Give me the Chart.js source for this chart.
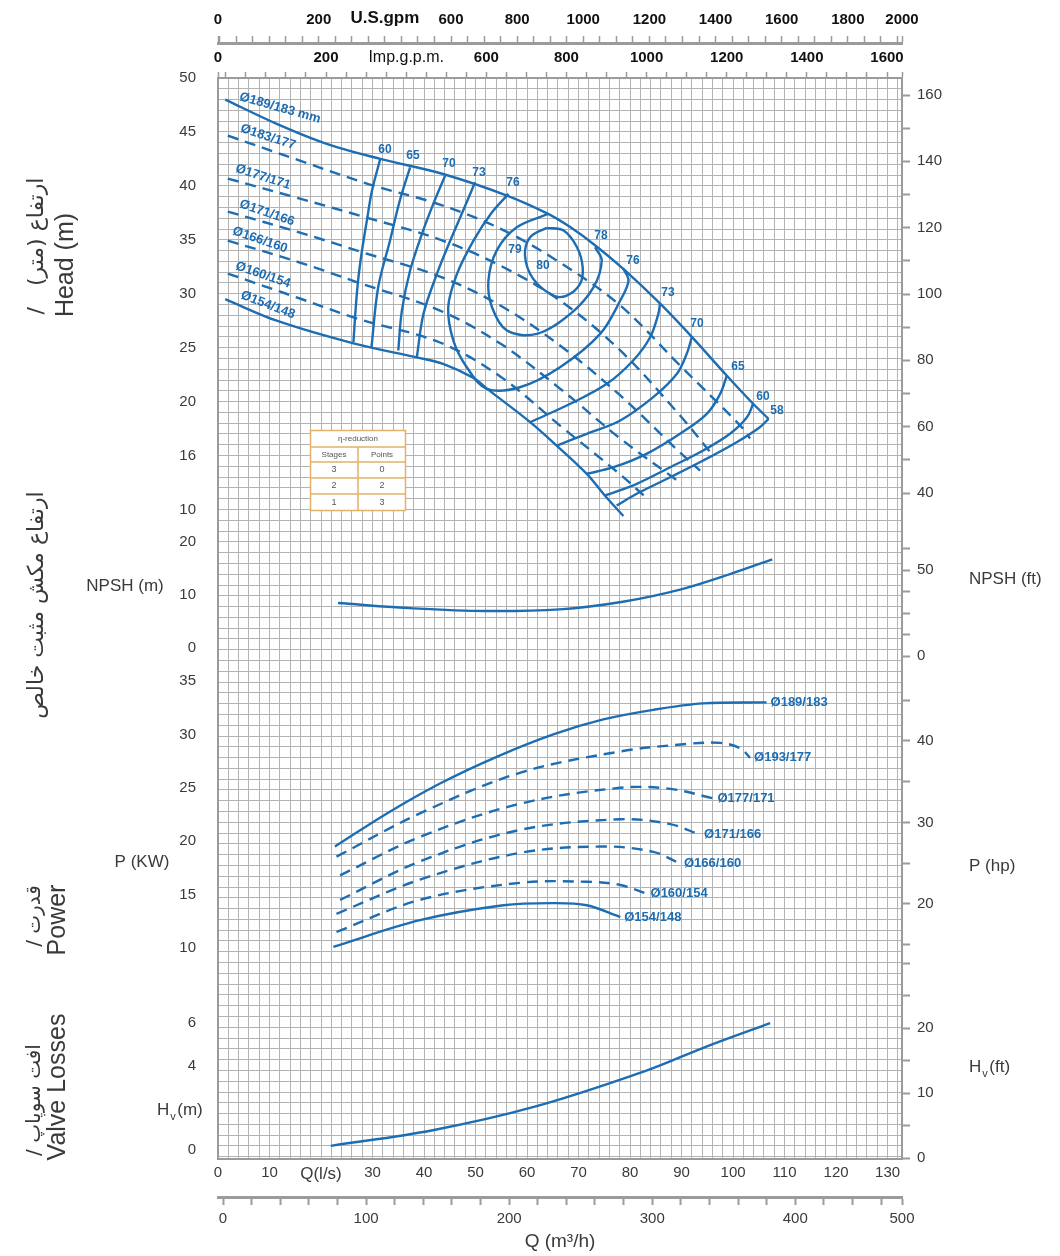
<!DOCTYPE html>
<html>
<head>
<meta charset="utf-8">
<script src="https://cdn.jsdelivr.net/npm/chart.js@4.4.1/dist/chart.umd.min.js"></script>
<style>
html,body{margin:0;padding:0;background:#fff}
canvas{display:block}
</style>
</head>
<body>
<canvas id="pump" width="1060" height="1256"></canvas>
<script>
// flow is plotted in l/s, every curve is [Q, value]

// H-Q curves (m)
const hq189 = [[1.4,48.0],[11.4,45.75],[21.1,43.9],[31.5,42.5],[43.7,41.1],[56.1,39.1],[64.1,37.4],[68.3,36.2],[73.2,34.5],[78.7,32.3],[85.8,29.1],[92.0,26.0],[98.8,22.4],[103.9,19.8],[106.9,18.4]];
const hq183 = [[1.9,44.66],[15.9,42.34],[29.5,40.12],[43.1,38.27],[54.8,36.04],[66.4,32.89],[78.1,28.91],[89.7,23.35],[101.4,17.78],[103.3,16.58]];
const hq177 = [[1.9,40.68],[15.9,38.82],[29.5,36.97],[43.1,35.02],[54.8,32.61],[66.4,29.37],[78.1,24.74],[89.7,18.71],[96.1,15.0]];
const hq171 = [[1.9,37.62],[15.9,35.67],[28.2,33.82],[43.1,31.59],[54.8,28.91],[66.4,25.2],[78.1,20.57],[89.7,15.28],[93.6,13.61]];
const hq166 = [[1.9,34.93],[15.9,32.89],[27.2,31.04],[43.1,28.44],[54.8,25.38],[66.4,21.21],[78.1,16.58],[89.7,12.5]];
const hq160 = [[1.9,31.87],[15.9,29.56],[27.0,27.7],[43.1,25.48],[54.8,22.33],[66.4,17.78],[78.1,13.24],[83.1,11.11]];
const hq154 = [[1.4,29.5],[11.4,27.5],[26.3,25.4],[38.6,24.1],[43.7,23.5],[49.6,22.2],[52.2,21.2],[60.6,18.1],[65.8,15.9],[71.6,13.3],[75.1,11.3],[78.7,9.4]];

// iso-efficiency lines (%)
const eta60L = [[31.5,42.5],[29.9,39.56],[28.9,36.78],[27.9,33.82],[27.2,31.22],[26.7,28.44],[26.3,25.51]];
const eta65L = [[37.3,41.72],[35.3,38.64],[33.4,34.93],[31.1,30.6],[29.8,25.04]];
const eta70L = [[44.1,40.95],[41.8,38.33],[39.6,35.55],[37.3,32.15],[35.7,28.44],[35.0,24.74]];
const eta73L = [[49.9,40.33],[47.6,37.71],[45.1,34.93],[42.5,31.84],[39.9,28.14],[38.6,24.11]];
const eta76 = [[56.4,39.26],[53.2,37.55],[49.6,34.93],[46.4,31.84],[44.7,28.75],[45.7,25.66],[48.3,23.19],[52.2,21.19],[58.6,21.33],[66.4,23.19],[74.2,26.28],[78.1,29.37],[79.7,31.22],[78.7,32.31]];
const eta78 = [[64.1,37.4],[58.0,36.16],[54.1,34.0],[52.5,31.22],[53.2,28.75],[56.1,26.59],[61.9,26.28],[68.4,28.14],[72.9,30.6],[74.5,33.08],[73.2,34.31]];
const eta80 = [[63.8,36.11],[60.6,35.24],[59.6,33.54],[61.2,31.38],[65.1,29.83],[67.7,29.83],[70.3,30.92],[70.8,32.46],[69.7,34.31],[67.1,35.86],[63.8,36.11]];
const eta73R = [[85.8,29.06],[85.5,28.14],[83.9,25.97],[80.6,23.81],[75.5,21.65],[68.4,19.8],[60.6,18.09]];
const eta70R = [[92.0,25.97],[91.0,24.43],[89.1,22.58],[84.5,20.41],[78.1,18.25],[71.6,17.02],[65.8,15.93]];
const eta65R = [[98.8,22.42],[97.5,20.72],[94.9,18.87],[89.7,17.02],[83.2,15.16],[76.8,13.92],[71.6,13.31]];
const eta60R = [[103.9,19.8],[102.7,18.55],[99.4,17.02],[94.2,15.47],[87.8,13.92],[81.3,12.38],[75.2,11.3]];
const eta58R = [[106.9,18.41],[105.2,17.63],[100.7,16.24],[94.2,14.54],[87.8,12.99],[81.3,11.46],[77.4,10.37]];

// NPSH (m)
const npsh = [[23.3,8.49],[37.9,7.49],[52.1,6.98],[66.3,7.3],[78.6,8.74],[89.9,11.08],[99.4,13.96],[107.6,16.74]];

// power (kW)
const p189 = [[22.7,19.5],[32.8,22.6],[43.1,25.4],[54.1,27.9],[65.1,30.0],[74.8,31.4],[84.5,32.3],[94.2,32.9],[106.5,33.0]];
const p193 = [[23.0,18.55],[39.2,22.6],[58.6,26.4],[78.1,28.4],[91.0,29.1],[97.5,29.2],[101.4,28.7],[103.3,27.8]];
const p177 = [[23.7,16.8],[39.2,20.4],[58.6,23.5],[78.1,25.0],[87.8,24.9],[96.2,24.0]];
const p171 = [[23.7,14.5],[39.2,18.1],[58.6,21.05],[78.1,22.05],[87.8,21.6],[93.6,20.6]];
const p166 = [[23.0,13.2],[39.2,16.4],[58.6,18.9],[74.8,19.5],[84.5,19.0],[89.7,17.9]];
const p160 = [[23.0,11.5],[39.2,14.5],[58.6,16.1],[71.6,16.2],[78.1,15.9],[83.2,15.1]];
const p154 = [[22.4,10.1],[39.2,12.6],[55.4,14.0],[65.1,14.2],[71.6,14.0],[78.1,12.9]];

// valve losses (m)
const hv = [[21.9,0.2],[41.7,0.94],[61.5,2.05],[82.9,3.73],[94.7,4.88],[107.2,6.0]];

// tick labels
const lsLabels = ['0','10','Q(l/s)','30','40','50','60','70','80','90','100','110','120','130'];
const m3hLabels = ['0','100','200','300','400','500'];
const usLabels = ['0','200','U.S.gpm','600','800','1000','1200','1400','1600','1800','2000'];
const impLabels = ['0','200','Imp.g.p.m.','600','800','1000','1200','1400','1600'];
const headTicks = [10,15,20,25,30,35,40,45,50];
const headLabels = ['10','16','20','25','30','35','40','45','50'];
const headFtTicks = [40,50,60,70,80,90,100,110,120,130,140,150,160];
const npshTicks = [0,10,20];
const npshFtTicks = [0,12.5,25,37.5,50,62.5];
const powerTicks = [10,15,20,25,30,35];
const powerHpTicks = [15,20,25,30,35,40,45];
const valveTicks = [0,2,4,6];
const valveFtTicks = [0,5,10,15,20,25,30];
const valveFtLabels = ['0','','10','','20','',''];
const etaStages = ['3','2','1'];
const etaPoints = ['0','2','3'];

const BLUE = '#1d6db3';
const GRID = '#b3b3b3';
const FRAME = '#9b9b9b';
const TXT = '#3a3a3a';
const SANS = "'Liberation Sans', Arial, sans-serif";
const ARAB = "'DejaVu Sans', sans-serif";

const toXY = a => a.map(([x, y]) => ({x, y}));

function curve(data, axis, dashed, tag) {
  return {
    data: toXY(data), xAxisID: 'x', yAxisID: axis, tag: tag,
    borderColor: BLUE, borderWidth: 2.4, borderDash: dashed ? [11, 7] : [],
    pointRadius: 0, tension: 0.35, fill: false
  };
}

const datasets = [
  curve(hq189, 'yH'), curve(hq183, 'yH', true), curve(hq177, 'yH', true),
  curve(hq171, 'yH', true), curve(hq166, 'yH', true), curve(hq160, 'yH', true),
  curve(hq154, 'yH'),
  curve(eta60L, 'yH'), curve(eta65L, 'yH'), curve(eta70L, 'yH'), curve(eta73L, 'yH'),
  curve(eta76, 'yH'), curve(eta78, 'yH'), curve(eta80, 'yH'),
  curve(eta73R, 'yH'), curve(eta70R, 'yH'), curve(eta65R, 'yH'), curve(eta60R, 'yH'), curve(eta58R, 'yH'),
  curve(npsh, 'yN'),
  curve(p189, 'yP', false, 'Ø189/183'), curve(p193, 'yP', true, 'Ø193/177'),
  curve(p177, 'yP', true, 'Ø177/171'), curve(p171, 'yP', true, 'Ø171/166'),
  curve(p166, 'yP', true, 'Ø166/160'), curve(p160, 'yP', true, 'Ø160/154'),
  curve(p154, 'yP', false, 'Ø154/148'),
  curve(hv, 'yV')
];

// side axes take no room of their own; their labels must not be clipped to the empty box
function noRoom(s) {
  s.width = 0;
  s._computeLabelArea = () => null;
}

function leftAxis(min, max, ticks, labels) {
  return {
    type: 'linear', position: 'left', weight: 0, min: min, max: max,
    afterBuildTicks: s => { s.ticks = ticks.map(v => ({value: v})); },
    afterFit: noRoom,
    grid: {display: false}, border: {display: false},
    ticks: {autoSkip: false, padding: 14, color: TXT, font: {family: SANS, size: 15},
      callback: v => labels[ticks.indexOf(v)]}
  };
}

function rightAxis(min, max, ticks, labels) {
  return {
    type: 'linear', position: 'right', weight: 0, min: min, max: max,
    afterBuildTicks: s => { s.ticks = ticks.map(v => ({value: v})); },
    afterFit: noRoom,
    grid: {display: true, drawOnChartArea: false, drawTicks: true, tickLength: 8, tickWidth: 2, tickColor: FRAME},
    border: {display: false},
    ticks: {autoSkip: false, padding: 7, color: TXT, font: {family: SANS, size: 15},
      callback: v => labels[ticks.indexOf(v)]}
  };
}

const overlay = {
  id: 'overlay',
  afterDraw(chart) {
    const c = chart.ctx;
    c.save();

    const vt = (s, x, y, size, rtl) => {
      c.save();
      c.translate(x, y);
      c.rotate(-Math.PI / 2);
      c.font = size + 'px ' + (rtl ? ARAB : SANS);
      c.direction = rtl ? 'rtl' : 'ltr';
      c.textAlign = 'center';
      c.textBaseline = 'middle';
      c.fillStyle = TXT;
      c.fillText(s, 0, 0);
      c.restore();
    };
    vt('ارتفاع (متر)   /', 37, 246, 22, true);
    vt('Head (m)', 66, 265, 25, false);
    vt('ارتفاع مکش مثبت خالص', 37, 605, 22, true);
    vt('قدرت /', 35, 916, 20, true);
    vt('Power', 58, 920, 25, false);
    vt('افت سوپاپ /', 35, 1100, 20, true);
    vt('Valve Losses', 58, 1087, 25, false);

    // unit labels
    c.fillStyle = TXT;
    c.textBaseline = 'middle';
    c.font = '17px ' + SANS;
    c.textAlign = 'center';
    c.fillText('NPSH (m)', 125, 586);
    c.fillText('P (KW)', 142, 862);
    c.textAlign = 'left';
    c.fillText('NPSH (ft)', 969, 579);
    c.fillText('P (hp)', 969, 866);
    const hvText = (x, y, unit) => {
      c.textAlign = 'left';
      c.font = '17px ' + SANS;
      c.fillText('H', x, y);
      const w = c.measureText('H').width;
      c.font = '11px ' + SANS;
      c.fillText('v', x + w + 1, y + 7);
      c.font = '17px ' + SANS;
      c.fillText(unit, x + w + 8, y);
    };
    hvText(157, 1110, '(m)');
    hvText(969, 1067, '(ft)');

    // impeller labels on the head curves
    c.fillStyle = BLUE;
    c.font = 'bold 13px ' + SANS;
    c.textAlign = 'center';
    const diam = [
      ['Ø189/183 mm', 280, 108, 16], ['Ø183/177', 268, 137, 18], ['Ø177/171', 263, 177, 18],
      ['Ø171/166', 267, 213, 19], ['Ø166/160', 260, 240, 19], ['Ø160/154', 263, 275, 19],
      ['Ø154/148', 268, 305, 21]
    ];
    diam.forEach(([s, x, y, a]) => {
      c.save();
      c.translate(x, y);
      c.rotate(a * Math.PI / 180);
      c.fillText(s, 0, 0);
      c.restore();
    });

    // efficiency numbers
    c.font = 'bold 12px ' + SANS;
    const eff = [['60',385,150],['65',413,156],['70',449,164],['73',479,173],['76',513,183],
      ['78',601,236],['76',633,261],['73',668,293],['70',697,324],['65',738,367],
      ['60',763,397],['58',777,411],['79',515,250],['80',543,266]];
    eff.forEach(([s, x, y]) => c.fillText(s, x, y));

    // power curve end labels
    c.font = 'bold 13px ' + SANS;
    c.textAlign = 'left';
    chart.data.datasets.forEach((ds, i) => {
      if (!ds.tag) return;
      const pts = chart.getDatasetMeta(i).data;
      const last = pts[pts.length - 1];
      c.fillText(ds.tag, last.x + 4, last.y);
    });

    // efficiency reduction table
    const L = 310, R = 406, M = 358;
    const rows = [430, 447, 462, 478, 494, 511];
    c.fillStyle = '#fff';
    c.fillRect(L, rows[0], R - L, rows[5] - rows[0]);
    c.strokeStyle = '#e1b26a';
    c.lineWidth = 1.5;
    c.strokeRect(L + 0.5, rows[0] + 0.5, R - L - 1, rows[5] - rows[0] - 1);
    c.beginPath();
    for (let k = 1; k < 5; k++) { c.moveTo(L, rows[k]); c.lineTo(R, rows[k]); }
    c.moveTo(M, rows[1]); c.lineTo(M, rows[5]);
    c.stroke();
    c.fillStyle = '#555';
    c.textAlign = 'center';
    c.font = '8px ' + SANS;
    c.fillText('η-reduction', M, 439);
    c.fillText('Stages', 334, 455);
    c.fillText('Points', 382, 455);
    c.font = '9px ' + SANS;
    etaStages.forEach((s, k) => {
      const y = (rows[k + 2] + rows[k + 3]) / 2;
      c.fillText(s, 334, y);
      c.fillText(etaPoints[k], 382, y);
    });

    c.restore();
  }
};

new Chart(document.getElementById('pump'), {
  type: 'line',
  data: {datasets: datasets},
  options: {
    responsive: false,
    animation: false,
    events: [],
    layout: {padding: 0},
    plugins: {legend: {display: false}, tooltip: {enabled: false}},
    scales: {
      x: {
        type: 'linear', position: 'bottom', weight: 0, min: 0, max: 132.8,
        afterBuildTicks: s => { const t = []; for (let v = 0; v <= 132; v += 2) t.push({value: v}); s.ticks = t; },
        afterFit: s => { s.height = 38; },
        grid: {color: GRID, lineWidth: 1, drawTicks: false},
        border: {display: true, color: FRAME, width: 2},
        ticks: {autoSkip: false, maxRotation: 0, padding: 5, color: TXT,
          font: ctx => ({family: SANS, size: ctx.tick && ctx.tick.value === 20 ? 17 : 15}),
          callback: v => v % 10 === 0 ? lsLabels[v / 10] : ''}
      },
      xm: {
        type: 'linear', position: 'bottom', weight: 1, min: -3.5, max: 474.6,
        afterBuildTicks: s => { const t = []; for (let v = 0; v <= 460; v += 20) t.push({value: v}); t.push({value: s.max}); s.ticks = t; },
        afterFit: s => { s.height = 59; },
        grid: {display: true, drawOnChartArea: false, drawTicks: true, tickLength: 8, tickWidth: 2, tickColor: FRAME},
        border: {display: true, color: FRAME, width: 3},
        ticks: {autoSkip: false, maxRotation: 0, padding: 5, color: TXT, font: {family: SANS, size: 15},
          callback: function (v) { if (v === this.max) return m3hLabels[5]; return v % 100 === 0 ? m3hLabels[v / 100] : ''; }},
        title: {display: true, text: 'Q (m³/h)', color: TXT, font: {family: SANS, size: 19}, padding: {top: 2, bottom: 3}}
      },
      xi: {
        type: 'linear', position: 'top', weight: 1, min: -69.6, max: 1637.4,
        afterBuildTicks: s => { const t = [{value: s.min}]; for (let v = -50; v <= 1600; v += 50) t.push({value: v}); t.push({value: s.max}); s.ticks = t; },
        afterFit: s => { s.height = 35; },
        grid: {display: true, drawOnChartArea: false, drawTicks: true, tickLength: 6, tickWidth: 1.5, tickColor: FRAME},
        border: {display: true, color: FRAME, width: 2},
        ticks: {autoSkip: false, maxRotation: 0, padding: 5, color: '#111',
          font: ctx => { const v = ctx.tick && ctx.tick.value; return {family: SANS, size: v === 400 ? 16 : 15, weight: v === 400 ? 'normal' : 'bold'}; },
          callback: function (v) {
            if (v === this.min) return impLabels[0];
            if (v === this.max) return '';
            return v > 0 && v % 200 === 0 ? impLabels[v / 200] : '';
          }}
      },
      xu: {
        type: 'linear', position: 'top', weight: 2, min: -104.6, max: 1963.8,
        afterBuildTicks: s => { const t = [{value: s.min}]; for (let v = -100; v <= 1950; v += 50) t.push({value: v}); t.push({value: s.max}); s.ticks = t; },
        afterFit: s => { s.height = 43; },
        grid: {display: true, drawOnChartArea: false, drawTicks: true, tickLength: 7, tickWidth: 1.5, tickColor: FRAME},
        border: {display: true, color: FRAME, width: 3},
        ticks: {autoSkip: false, maxRotation: 0, padding: 7, color: '#111',
          font: ctx => ({family: SANS, size: ctx.tick && ctx.tick.value === 400 ? 17 : 15, weight: 'bold'}),
          callback: function (v) {
            if (v === this.min) return usLabels[0];
            if (v === this.max) return usLabels[10];
            return v > 0 && v % 200 === 0 ? usLabels[v / 200] : '';
          }}
      },
      gy: {
        type: 'linear', position: 'left', weight: 10, min: 0, max: 100.21, reverse: true,
        afterBuildTicks: s => { const t = []; for (let v = 0; v <= 100; v++) t.push({value: v}); s.ticks = t; },
        afterFit: s => { s.width = 218; },
        grid: {color: GRID, lineWidth: 1, drawTicks: false},
        border: {display: true, color: FRAME, width: 2},
        ticks: {display: false}
      },
      yH: leftAxis(-50.21, 50, headTicks, headLabels),
      yN: leftAxis(-96.41, 107.55, npshTicks, npshTicks.map(String)),
      yP: leftAxis(-9.76, 91.46, powerTicks, powerTicks.map(String)),
      yV: leftAxis(-0.42, 50.64, valveTicks, valveTicks.map(v => v === 2 ? '' : String(v))),
      yHf: rightAxis(-160.8, 165.13, headFtTicks, headFtTicks.map(v => v % 20 === 0 ? String(v) : '')),
      yNf: rightAxis(-292.44, 336.05, npshFtTicks, npshFtTicks.map(v => v % 50 === 0 ? String(v) : '')),
      yPf: rightAxis(-11.29, 121.35, powerHpTicks, powerHpTicks.map(v => v % 10 === 0 ? String(v) : '')),
      yVf: rightAxis(-0.15, 166.15, valveFtTicks, valveFtLabels),
      rPad: {
        type: 'linear', position: 'right', weight: 10, min: 0, max: 1,
        afterFit: s => { s.width = 158; },
        grid: {display: false},
        border: {display: true, color: FRAME, width: 2},
        ticks: {display: false}
      }
    }
  },
  plugins: [overlay]
});
</script>
</body>
</html>
